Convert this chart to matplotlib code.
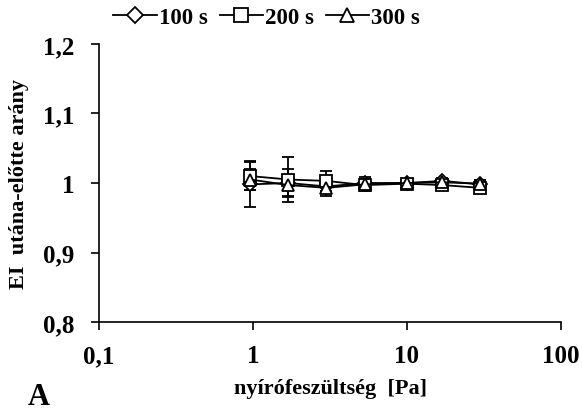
import matplotlib.pyplot as plt
from matplotlib.lines import Line2D
from matplotlib.ticker import FixedLocator, FixedFormatter, NullLocator

# Shear stress values [Pa]
stress = [0.96, 1.7, 3.0, 5.3, 10, 17, 30]

# EI after/before ratio with standard deviations
ratio_100 = [0.998, 1.000, 0.995, 1.000, 1.000, 1.003, 0.998]
err_100 = [0.033, 0.020, 0.010, 0.006, 0.004, 0.004, 0.006]
ratio_200 = [1.010, 1.005, 1.003, 0.997, 0.999, 0.997, 0.993]
err_200 = [0.020, 0.032, 0.014, 0.008, 0.005, 0.006, 0.006]
ratio_300 = [1.005, 0.997, 0.993, 0.998, 1.000, 1.001, 0.999]
err_300 = [0.015, 0.015, 0.012, 0.010, 0.005, 0.005, 0.005]

labels = ['100 s', '200 s', '300 s']
markers = ['D', 's', '^']
yticks = [0.8, 0.9, 1.0, 1.1, 1.2]
ytick_labels = ['0,8', '0,9', '1', '1,1', '1,2']
xticks = [0.1, 1, 10, 100]
xtick_labels = ['0,1', '1', '10', '100']

plt.rcParams['font.family'] = 'Liberation Serif'
plt.rcParams['font.weight'] = 'bold'

fig = plt.figure(figsize=(5.82, 4.14), dpi=100)
ax = fig.add_axes([99 / 582, 1 - 323 / 414, 462 / 582, 278 / 414])

series = [(ratio_100, err_100), (ratio_200, err_200), (ratio_300, err_300)]
sizes = {'D': 7, 's': 9, '^': 9}
handles = []
for (vals, errs), lab, m in zip(series, labels, markers):
    ax.errorbar(stress, vals, yerr=errs, color='black', lw=1.3,
                marker=m, ms=sizes[m], mfc='white', mec='black', mew=1.3,
                capsize=4, elinewidth=1.3, capthick=1.3)
    handles.append(Line2D([], [], color='black', lw=1.3, marker=m,
                          ms=sizes[m] + 1, mfc='white', mec='black',
                          mew=1.3, label=lab))

ax.set_xscale('log')
ax.set_xlim(0.1, 100)
ax.set_ylim(0.8, 1.2)
ax.xaxis.set_major_locator(FixedLocator(xticks))
ax.xaxis.set_major_formatter(FixedFormatter(xtick_labels))
ax.xaxis.set_minor_locator(NullLocator())
ax.set_yticks(yticks)
ax.set_yticklabels(ytick_labels)

for side in ['top', 'right']:
    ax.spines[side].set_visible(False)
for side in ['left', 'bottom']:
    ax.spines[side].set_linewidth(1.2)
ax.tick_params(axis='both', direction='out', length=6, width=1.2,
               labelsize=18)
ax.tick_params(axis='y', pad=12)
ax.tick_params(axis='x', pad=10)
for lbl in ax.get_xticklabels() + ax.get_yticklabels():
    lbl.set_fontweight('bold')

ax.set_xlabel('nyírófeszültség  [Pa]', fontsize=16, fontweight='bold',
              labelpad=8)
ax.set_ylabel('EI  utána-előtte arány', fontsize=16, fontweight='bold',
              labelpad=10)

leg = fig.legend(handles=handles, loc='center left',
                 bbox_to_anchor=(102 / 582, 1 - 18 / 414), ncol=3,
                 frameon=False, fontsize=16.5, handlelength=1.9,
                 handletextpad=0.1, columnspacing=0.5, borderpad=0)
for t in leg.get_texts():
    t.set_fontweight('bold')

fig.text(28 / 582, 1 - 398 / 414, 'A', fontsize=22, fontweight='bold',
         ha='left', va='center')

fig.savefig('out.png', dpi=100)
